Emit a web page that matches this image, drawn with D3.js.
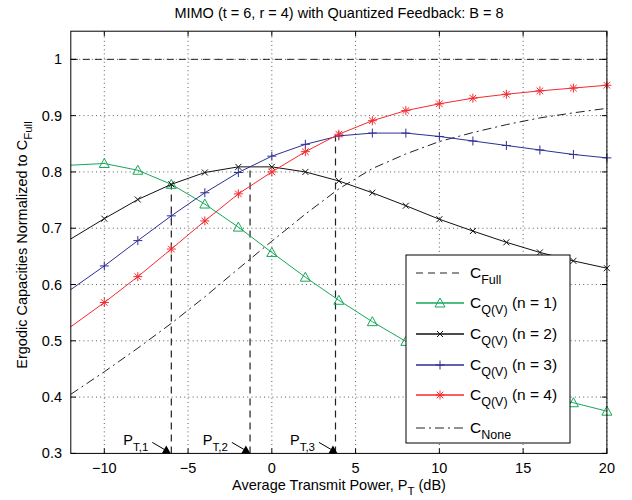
<!DOCTYPE html>
<html>
<head>
<meta charset="utf-8">
<script src="https://cdn.jsdelivr.net/npm/d3@7"></script>
<style>
  body { margin: 0; background: #fff; }
  svg { font-family: "Liberation Sans", Arial, Helvetica, sans-serif; }
</style>
</head>
<body>
<svg id="chart" width="632" height="500"></svg>
<script>
// data
var power = [-12, -10, -8, -6, -4, -2, 0, 2, 4, 6, 8, 10, 12, 14, 16, 18, 20];
var cFull = [1, 1, 1, 1, 1, 1, 1, 1, 1, 1, 1, 1, 1, 1, 1, 1, 1];
var cQ1 = [0.812, 0.815, 0.803, 0.778, 0.743, 0.702, 0.657, 0.613, 0.572, 0.534, 0.499, 0.470, 0.445, 0.424, 0.405, 0.390, 0.375];
var cQ2 = [0.681, 0.717, 0.751, 0.778, 0.799, 0.809, 0.809, 0.800, 0.784, 0.763, 0.740, 0.716, 0.695, 0.675, 0.657, 0.642, 0.629];
var cQ3 = [0.591, 0.633, 0.678, 0.722, 0.763, 0.799, 0.828, 0.849, 0.864, 0.869, 0.869, 0.863, 0.855, 0.847, 0.839, 0.831, 0.825];
var cQ4 = [0.525, 0.568, 0.614, 0.663, 0.713, 0.761, 0.800, 0.836, 0.867, 0.891, 0.909, 0.921, 0.931, 0.938, 0.944, 0.949, 0.954];
var cNone = [0.405, 0.445, 0.487, 0.531, 0.578, 0.628, 0.677, 0.725, 0.770, 0.806, 0.832, 0.854, 0.870, 0.884, 0.896, 0.905, 0.913];

var xTicks = [-10, -5, 0, 5, 10, 15, 20];
var yTicks = [0.3, 0.4, 0.5, 0.6, 0.7, 0.8, 0.9, 1];

// threshold markers P_T,k
var threshLabels = ["1", "2", "3"];
var threshX = [-6.3, -1.55, 3.65];
var crossX = [-6.0, -1.3, 3.8];
var crossY = [0.778, 0.809, 0.865];

var svg = d3.select("#chart");
var x = d3.scaleLinear().domain([-12, 20]).range([70.8, 606.9]);
var y = d3.scaleLinear().domain([0.3, 1.05]).range([453.4, 31.2]);

// grid
var grid = svg.append("g").attr("stroke", "#333").attr("stroke-width", 0.8)
  .attr("stroke-dasharray", "1,3.2");
grid.selectAll(".gx").data(xTicks).enter().append("line")
  .attr("x1", d => x(d)).attr("x2", d => x(d)).attr("y1", y(0.3)).attr("y2", y(1.05));
grid.selectAll(".gy").data(yTicks.slice(1)).enter().append("line")
  .attr("x1", x(-12)).attr("x2", x(20)).attr("y1", d => y(d)).attr("y2", d => y(d));

var line = d3.line().x((d, i) => x(power[i])).y(d => y(d));

// C_Full and C_None
svg.append("path").datum(cFull).attr("d", line).attr("fill", "none")
  .attr("stroke", "#222").attr("stroke-width", 1).attr("stroke-dasharray", "7,5");
svg.append("path").datum(cNone).attr("d", line).attr("fill", "none")
  .attr("stroke", "#222").attr("stroke-width", 1).attr("stroke-dasharray", "9,4,2,4");

// vertical dashed lines at crossings
svg.selectAll(".vd").data(crossX).enter().append("line")
  .attr("x1", d => x(d)).attr("x2", d => x(d))
  .attr("y1", y(0.3)).attr("y2", (d, i) => y(crossY[i]))
  .attr("stroke", "#222").attr("stroke-width", 1.2).attr("stroke-dasharray", "7,5");

var green = "#16a85a", blue = "#2c2f94", red = "#f42a2f", black = "#111";

function marker(g, type, color) {
  if (type == "tri") {
    g.append("path").attr("d", "M0,-5L5,4L-5,4Z").attr("fill", "none").attr("stroke", color).attr("stroke-width", 1);
  } else if (type == "x") {
    g.append("path").attr("d", "M-3,-3L3,3M-3,3L3,-3").attr("stroke", color).attr("stroke-width", 1);
  } else if (type == "plus") {
    g.append("path").attr("d", "M-4.5,0L4.5,0M0,-4.5L0,4.5").attr("stroke", color).attr("stroke-width", 1);
  } else if (type == "star") {
    g.append("path").attr("d", "M-4.5,0L4.5,0M0,-4.5L0,4.5M-3.3,-3.3L3.3,3.3M-3.3,3.3L3.3,-3.3")
      .attr("stroke", color).attr("stroke-width", 1);
  }
}

var series = [
  { vals: cQ1, color: green, m: "tri" },
  { vals: cQ2, color: black, m: "x" },
  { vals: cQ3, color: blue, m: "plus" },
  { vals: cQ4, color: red, m: "star" }
];

series.forEach(function (s) {
  svg.append("path").datum(s.vals).attr("d", line).attr("fill", "none")
    .attr("stroke", s.color).attr("stroke-width", 1);
  s.vals.forEach(function (v, i) {
    if (i == 0) return;
    var g = svg.append("g").attr("transform", "translate(" + x(power[i]) + "," + y(v) + ")");
    marker(g, s.m, s.color);
  });
});

// axes box
svg.append("rect").attr("x", x(-12)).attr("y", y(1.05))
  .attr("width", x(20) - x(-12)).attr("height", y(0.3) - y(1.05))
  .attr("fill", "none").attr("stroke", "#000").attr("stroke-width", 1);

// ticks (inward, both sides)
var tk = svg.append("g").attr("stroke", "#000").attr("stroke-width", 1);
xTicks.forEach(function (t) {
  tk.append("line").attr("x1", x(t)).attr("x2", x(t)).attr("y1", y(0.3)).attr("y2", y(0.3) - 5);
  tk.append("line").attr("x1", x(t)).attr("x2", x(t)).attr("y1", y(1.05)).attr("y2", y(1.05) + 5);
});
yTicks.forEach(function (t) {
  tk.append("line").attr("x1", x(-12)).attr("x2", x(-12) + 5).attr("y1", y(t)).attr("y2", y(t));
  tk.append("line").attr("x1", x(20)).attr("x2", x(20) - 5).attr("y1", y(t)).attr("y2", y(t));
});

var fmtX = d => (d < 0 ? "\u2212" + Math.abs(d) : "" + d);
svg.selectAll(".xl").data(xTicks).enter().append("text")
  .attr("x", d => x(d)).attr("y", 473).attr("text-anchor", "middle")
  .attr("font-size", 14.5).text(fmtX);
svg.selectAll(".yl").data(yTicks).enter().append("text")
  .attr("x", 62).attr("y", d => y(d) + 5).attr("text-anchor", "end")
  .attr("font-size", 14.5).text(d => (d == 1 ? "1" : d.toFixed(1)));

// threshold triangles and labels
threshX.forEach(function (t, i) {
  var px = x(t), py = y(0.3);
  svg.append("path").attr("d", "M" + (px - 4.5) + "," + py + "L" + px + "," + (py - 8) + "L" + (px + 4.5) + "," + py + "Z")
    .attr("fill", "#000");
  svg.append("line").attr("x1", px - 14).attr("y1", py - 11).attr("x2", px - 2).attr("y2", py - 4)
    .attr("stroke", "#000").attr("stroke-width", 1);
  var tx = svg.append("text").attr("x", px - 43).attr("y", py - 8).attr("font-size", 14.5);
  tx.append("tspan").text("P");
  tx.append("tspan").attr("dy", 6).attr("font-size", 11.5).text("T," + threshLabels[i]);
});

// title and axis labels
svg.append("text").attr("x", 339).attr("y", 18).attr("text-anchor", "middle")
  .attr("font-size", 14.5).text("MIMO (t = 6, r = 4) with Quantized Feedback: B = 8");

var xl = svg.append("text").attr("x", 339).attr("y", 490).attr("text-anchor", "middle").attr("font-size", 14.5);
xl.append("tspan").text("Average Transmit Power, P");
xl.append("tspan").attr("dy", 5).attr("font-size", 11.5).text("T");
xl.append("tspan").attr("dy", -5).text(" (dB)");

var yl = svg.append("text").attr("transform", "translate(27,245) rotate(-90)")
  .attr("text-anchor", "middle").attr("font-size", 14.5);
yl.append("tspan").text("Ergodic Capacities Normalized to C");
yl.append("tspan").attr("dy", 5).attr("font-size", 11.5).text("Full");

// legend
var lg = svg.append("g");
lg.append("rect").attr("x", 406).attr("y", 255).attr("width", 164).attr("height", 188)
  .attr("fill", "#fff").attr("stroke", "#000").attr("stroke-width", 1);

var legendItems = [
  { sub: "Full", rest: "", color: "#222", dash: "7,5", m: null },
  { sub: "Q(V)", rest: " (n = 1)", color: green, dash: null, m: "tri" },
  { sub: "Q(V)", rest: " (n = 2)", color: black, dash: null, m: "x" },
  { sub: "Q(V)", rest: " (n = 3)", color: blue, dash: null, m: "plus" },
  { sub: "Q(V)", rest: " (n = 4)", color: red, dash: null, m: "star" },
  { sub: "None", rest: "", color: "#222", dash: "9,4,2,4", m: null }
];
var legendY = [273, 303, 334, 365, 395, 428];
legendItems.forEach(function (it, i) {
  var ly = legendY[i];
  lg.append("line").attr("x1", 416).attr("x2", 464).attr("y1", ly).attr("y2", ly)
    .attr("stroke", it.color).attr("stroke-width", it.m ? 1.6 : 1)
    .attr("stroke-dasharray", it.dash);
  if (it.m) marker(lg.append("g").attr("transform", "translate(440," + ly + ")"), it.m, it.color);
  var t = lg.append("text").attr("x", 470).attr("y", ly + 5).attr("font-size", 15.5);
  t.append("tspan").text("C");
  t.append("tspan").attr("dy", 6).attr("font-size", 12.5).text(it.sub);
  if (it.rest) t.append("tspan").attr("dy", -6).text(it.rest);
});
</script>
</body>
</html>
